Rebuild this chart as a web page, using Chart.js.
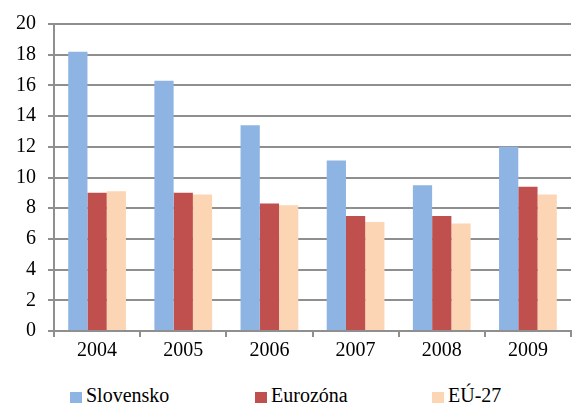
<!DOCTYPE html>
<html>
<head>
<meta charset="utf-8">
<script src="https://cdn.jsdelivr.net/npm/chart.js@4/dist/chart.umd.min.js"></script>
<style>
  html, body { margin: 0; padding: 0; background: #fff; overflow: hidden; }
  #wrap { position: relative; width: 573px; height: 403px; }
  #plot { position: absolute; left: 0; top: 0; width: 573px; height: 365px; }
  .leg { position: absolute; top: 383px; font-family: "Liberation Serif", "Times New Roman", serif;
         font-size: 20px; color: #000; white-space: nowrap; line-height: 24px; }
  .leg i { display: inline-block; width: 12px; height: 11px; margin-right: 4px; vertical-align: -1px; }
</style>
</head>
<body>
<div id="wrap">
  <div id="plot"><canvas id="chart"></canvas></div>
  <div id="legend"></div>
</div>
<script>
/* data */
const years = ["2004", "2005", "2006", "2007", "2008", "2009"];
const slovensko = [18.2, 16.3, 13.4, 11.1, 9.5, 12.0];
const eurozona = [9.0, 9.0, 8.3, 7.5, 7.5, 9.4];
const eu27 = [9.1, 8.9, 8.2, 7.1, 7.0, 8.9];
const seriesNames = ["Slovensko", "Eurozóna", "EÚ-27"];
const seriesColors = ["#8eb4e3", "#c0504d", "#fcd5b5"];

const gridGray = "#8f8f8f";
const font = { family: "'Liberation Serif', 'Times New Roman', serif", size: 20 };

const chart = new Chart(document.getElementById("chart"), {
  type: "bar",
  data: {
    labels: years,
    datasets: [
      { label: seriesNames[0], data: slovensko, backgroundColor: seriesColors[0] },
      { label: seriesNames[1], data: eurozona, backgroundColor: seriesColors[1] },
      { label: seriesNames[2], data: eu27, backgroundColor: seriesColors[2] }
    ]
  },
  options: {
    responsive: true,
    maintainAspectRatio: false,
    animation: false,
    layout: { padding: { top: 8, right: 2, left: 4, bottom: 0 } },
    datasets: { bar: { categoryPercentage: 0.67, barPercentage: 1 } },
    plugins: {
      tooltip: { enabled: false },
      legend: { display: false }
    },
    scales: {
      x: {
        grid: {
          drawOnChartArea: false,
          color: gridGray,
          lineWidth: 2,
          tickLength: 6
        },
        border: { color: gridGray, width: 2 },
        ticks: { color: "#000", font: font, padding: 2 }
      },
      y: {
        min: 0,
        max: 20,
        ticks: { stepSize: 2, autoSkip: false, color: "#000", font: font, padding: 12 },
        grid: { color: gridGray, lineWidth: 2, tickLength: 6 },
        border: { color: gridGray, width: 2 }
      }
    }
  }
});

/* legend as plain text under the plot */
const legendLeft = [70, 255, 432];
const legend = document.getElementById("legend");
chart.data.datasets.forEach((ds, i) => {
  const item = document.createElement("div");
  item.className = "leg";
  item.style.left = legendLeft[i] + "px";
  item.innerHTML = `<i style="background:${ds.backgroundColor}"></i>${ds.label}`;
  legend.appendChild(item);
});
</script>
</body>
</html>
